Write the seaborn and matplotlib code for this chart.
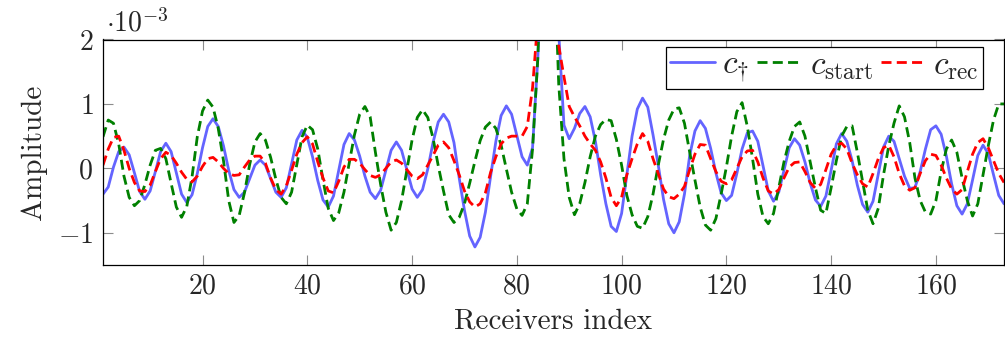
import numpy as np
import pandas as pd
import matplotlib
matplotlib.use("Agg")
import matplotlib.pyplot as plt
from matplotlib.ticker import FuncFormatter
import seaborn as sns

# Amplitudes along the receiver line, in units of 1e-3
c_dagger = [
    -0.40, -0.29, 0.02, 0.26, 0.33, 0.21, -0.07, -0.36, -0.48, -0.35,
    -0.05, 0.26, 0.39, 0.26, -0.07, -0.40, -0.53, -0.41, -0.08, 0.32,
    0.65, 0.77, 0.65, 0.35, -0.03, -0.33, -0.45, -0.37, -0.16, 0.05,
    0.13, 0.05, -0.16, -0.37, -0.45, -0.30, 0.07, 0.44, 0.59, 0.48,
    0.18, -0.19, -0.49, -0.60, -0.43, -0.03, 0.37, 0.54, 0.44, 0.19,
    -0.12, -0.37, -0.47, -0.34, -0.03, 0.28, 0.41, 0.28, -0.02, -0.32,
    -0.45, -0.33, -0.01, 0.40, 0.72, 0.84, 0.72, 0.40, -0.15, -0.65,
    -1.05, -1.22, -1.07, -0.68, -0.12, 0.42, 0.82, 0.97, 0.84, 0.51,
    0.18, 0.05, 0.32, 1.70, 3.60, 4.60, 3.80, 2.10, 0.67, 0.46,
    0.62, 0.85, 0.96, 0.80, 0.42, -0.10, -0.55, -0.90, -0.98, -0.70,
    -0.10, 0.50, 0.92, 1.09, 0.95, 0.52, 0.05, -0.48, -0.86, -1.00,
    -0.83, -0.40, 0.20, 0.58, 0.74, 0.62, 0.31, -0.07, -0.38, -0.50,
    -0.42, -0.08, 0.30, 0.55, 0.58, 0.42, 0.04, -0.35, -0.51, -0.37,
    -0.03, 0.32, 0.46, 0.36, 0.10, -0.23, -0.49, -0.59, -0.43, -0.03,
    0.38, 0.54, 0.42, 0.12, -0.26, -0.56, -0.68, -0.51, -0.09, 0.33,
    0.50, 0.42, 0.15, -0.12, -0.31, -0.30, -0.05, 0.30, 0.60, 0.66,
    0.53, 0.19, -0.24, -0.58, -0.71, -0.55, -0.18, 0.20, 0.36, 0.23,
    -0.10, -0.42, -0.55,
]

c_start = [
    0.49, 0.75, 0.70, 0.38, -0.12, -0.45, -0.58, -0.50, -0.25, 0.05,
    0.28, 0.31, 0.15, -0.23, -0.60, -0.76, -0.59, -0.13, 0.49, 0.89,
    1.06, 0.95, 0.62, 0.12, -0.50, -0.84, -0.73, -0.38, 0.06, 0.41,
    0.54, 0.44, 0.17, -0.17, -0.45, -0.55, -0.37, 0.06, 0.49, 0.67,
    0.60, 0.30, -0.18, -0.62, -0.81, -0.69, -0.37, 0.08, 0.52, 0.84,
    0.96, 0.80, 0.25, -0.25, -0.68, -0.96, -0.84, -0.50, -0.03, 0.44,
    0.79, 0.91, 0.79, 0.47, 0.04, -0.35, -0.72, -0.84, -0.76, -0.55,
    -0.23, 0.11, 0.43, 0.64, 0.72, 0.62, 0.36, -0.01, -0.37, -0.63,
    -0.73, -0.55, 0.30, 1.70, 4.00, 5.00, 3.60, 1.30, 0.15, -0.45,
    -0.72, -0.55, -0.22, 0.18, 0.50, 0.68, 0.76, 0.74, 0.45, 0.05,
    -0.42, -0.72, -0.90, -0.93, -0.75, -0.40, 0.05, 0.45, 0.75, 0.92,
    0.94, 0.70, 0.25, -0.18, -0.60, -0.88, -0.96, -0.78, -0.40, 0.02,
    0.50, 0.88, 1.02, 0.65, 0.15, -0.40, -0.75, -0.86, -0.70, -0.30,
    0.10, 0.42, 0.65, 0.72, 0.50, 0.10, -0.30, -0.65, -0.70, -0.30,
    0.12, 0.50, 0.65, 0.66, 0.25, -0.20, -0.65, -0.86, -0.62, -0.10,
    0.35, 0.70, 0.97, 0.80, 0.40, -0.15, -0.50, -0.68, -0.71, -0.50,
    -0.05, 0.30, 0.44, 0.25, -0.15, -0.50, -0.74, -0.55, -0.10, 0.35,
    0.75, 1.00, 1.00,
]

c_rec = [
    0.05, 0.30, 0.48, 0.50, 0.28, 0.00, -0.22, -0.35, -0.36, -0.26,
    -0.05, 0.15, 0.25, 0.20, 0.08, -0.06, -0.17, -0.21, -0.12, 0.03,
    0.15, 0.17, 0.10, 0.00, -0.08, -0.11, -0.10, 0.02, 0.13, 0.19,
    0.19, 0.08, -0.15, -0.33, -0.40, -0.27, -0.03, 0.22, 0.40, 0.49,
    0.38, 0.10, -0.15, -0.35, -0.38, -0.20, 0.02, 0.14, 0.14, 0.08,
    -0.02, -0.11, -0.14, -0.10, 0.00, 0.10, 0.13, 0.08, -0.02, -0.12,
    -0.16, -0.10, 0.05, 0.20, 0.36, 0.41, 0.32, 0.12, -0.10, -0.35,
    -0.52, -0.60, -0.55, -0.38, -0.06, 0.18, 0.38, 0.47, 0.50, 0.50,
    0.50, 0.65, 1.25, 2.30, 4.00, 4.50, 3.50, 1.90, 1.42, 0.96,
    0.80, 0.66, 0.50, 0.38, 0.28, 0.10, -0.15, -0.45, -0.58, -0.45,
    -0.10, 0.15, 0.38, 0.54, 0.42, 0.15, -0.08, -0.32, -0.44, -0.47,
    -0.40, -0.28, -0.02, 0.22, 0.37, 0.36, 0.15, -0.05, -0.20, -0.24,
    -0.18, 0.00, 0.18, 0.27, 0.28, 0.10, -0.15, -0.35, -0.40, -0.33,
    -0.15, 0.02, 0.09, 0.10, -0.05, -0.22, -0.31, -0.25, -0.02, 0.22,
    0.36, 0.39, 0.30, 0.08, -0.10, -0.24, -0.29, -0.08, 0.15, 0.32,
    0.36, 0.18, -0.08, -0.27, -0.34, -0.30, -0.08, 0.12, 0.22, 0.20,
    0.05, -0.15, -0.32, -0.40, -0.33, -0.05, 0.22, 0.40, 0.46, 0.32,
    0.12, -0.08, -0.22,
]

receivers = np.arange(1, len(c_dagger) + 1)
x_ticks = [20, 40, 60, 80, 100, 120, 140, 160]
y_ticks = [-1, 0, 1, 2]
SCALE = 1e-3

sns.set_theme(style="ticks")
plt.rcParams.update({
    "font.family": "serif",
    "font.serif": ["cmr10"],
    "mathtext.fontset": "cm",
    "axes.formatter.use_mathtext": True,
    "axes.unicode_minus": True,
    "axes.edgecolor": "black",
    "axes.linewidth": 0.9,
})

fig = plt.figure(figsize=(10.05, 3.45), dpi=100)
ax = fig.add_axes([103 / 1005, 1 - 265 / 345, 901 / 1005, 225.5 / 345])

dash = (0, (3.6, 1.9))
series = [
    (c_dagger, r"$c_{\dagger}$", "#6464ff", "-"),
    (c_start, r"$c_{\mathrm{start}}$", "#008000", dash),
    (c_rec, r"$c_{\mathrm{rec}}$", "#ff0000", dash),
]
for values, label, color, ls in series:
    df = pd.DataFrame({"idx": receivers, "amp": np.asarray(values) * SCALE})
    sns.lineplot(data=df, x="idx", y="amp", ax=ax, color=color,
                 linewidth=2.0, linestyle=ls, label=label)

ax.set_xlim(1, 173)
ax.set_ylim(-1.5 * SCALE, 2 * SCALE)
ax.set_xticks(x_ticks)
ax.set_yticks([t * SCALE for t in y_ticks])
ax.xaxis.set_major_formatter(FuncFormatter(lambda v, p: f"${v:.0f}$"))
ax.yaxis.set_major_formatter(FuncFormatter(lambda v, p: f"${round(v / SCALE):d}$"))
ax.tick_params(axis="both", which="both", direction="in", length=7.5,
               width=0.8, color="#8c8c8c", labelsize=20,
               top=True, right=True, pad=7)
ax.tick_params(axis="x", pad=6)

ax.set_xlabel("Receivers index", fontsize=21, labelpad=6)
ax.set_ylabel("Amplitude", fontsize=21, labelpad=8)

fig.text(106 / 1005, 1 - 31 / 345, r"$\cdot 10^{-3}$", fontsize=20,
         va="baseline", ha="left")

leg = ax.legend(loc="upper right", bbox_to_anchor=(0.9767, 0.9685),
                ncol=3, fontsize=24, frameon=True, fancybox=False,
                edgecolor="black", framealpha=1, borderaxespad=0,
                handlelength=1.35, handletextpad=0.22, columnspacing=0.25,
                borderpad=0.12)
leg.get_frame().set_linewidth(0.9)

fig.savefig("out.png", dpi=100)
